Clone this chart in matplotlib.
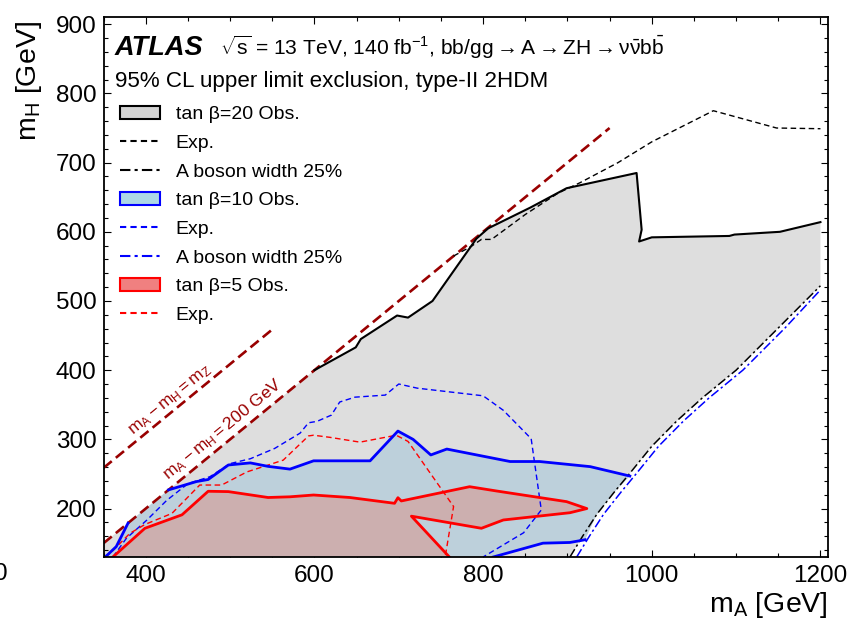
import numpy as np
import matplotlib
matplotlib.use("Agg")
import matplotlib.pyplot as plt
from matplotlib.patches import Patch
from matplotlib.lines import Line2D
from matplotlib.ticker import MultipleLocator

plt.rcParams["font.family"] = ["Liberation Sans", "DejaVu Sans"]
plt.rcParams["mathtext.fontset"] = "custom"
plt.rcParams["mathtext.rm"] = "Liberation Sans"
plt.rcParams["mathtext.it"] = "Liberation Sans:italic"
plt.rcParams["mathtext.bf"] = "Liberation Sans:bold"

MZ = 91.19

# tan(beta) = 20: observed boundary, expected and 25% width limit
tb20_obs_ma = [600, 649, 655, 698, 711, 740, 792, 806, 856, 899, 982, 988, 985, 1000, 1092, 1098, 1152, 1200]
tb20_obs_mh = [400, 433, 445, 479, 476, 500, 590, 605, 635, 663, 685, 603, 586, 592, 594, 596, 600, 614]
tb20_exp_ma = [765, 786, 798, 810, 850, 889, 915, 960, 1000, 1073, 1148, 1200]
tb20_exp_mh = [565, 579, 589, 589, 625, 656, 671, 700, 730, 775, 750, 749]
tb20_width_ma = [903, 918, 935, 955, 974, 1000, 1030, 1060, 1100, 1150, 1200]
tb20_width_mh = [130, 160, 192, 223, 251, 290, 327, 360, 400, 461, 522]

# tan(beta) = 10
tb10_low_ma = [352, 365, 379]
tb10_low_mh = [130, 145, 179]
tb10_obs_ma = [427, 460, 474, 498, 524, 545, 571, 599, 642, 666, 699, 717, 738, 757, 832, 867, 927, 974]
tb10_obs_mh = [227, 239, 242, 263, 266, 261, 257, 269, 269, 269, 312, 300, 277.5, 286, 268, 268, 260.6, 247]
tb10_bot_ma = [812, 871, 903, 915, 921]
tb10_bot_mh = [130, 150, 151, 153.6, 155]
tb10_exp_ma = [361, 377, 401, 425, 450, 476, 500, 524, 553, 583, 593, 603, 620, 630, 648, 684, 700, 722,
               800, 824, 857, 869, 848, 800]
tb10_exp_mh = [130, 157, 183, 212, 236, 246, 265, 272, 287, 309, 324, 326, 335, 354, 361, 364, 380, 374,
               363, 342, 301, 198, 165, 130]
tb10_width_ma = [911, 926, 943, 963, 982, 1008, 1038, 1068, 1108, 1158, 1200]
tb10_width_mh = [130, 160, 192, 223, 251, 290, 327, 360, 400, 461, 516]

# tan(beta) = 5
tb5_obs_ma = [361, 399, 443, 474, 498, 545, 571, 599, 642, 695, 699, 703, 784, 816, 899, 923, 903, 824, 798, 715, 760]
tb5_obs_mh = [130, 171.5, 191, 225, 224.5, 216, 217, 219.6, 216, 207.6, 215.7, 211, 231.6, 225.4, 210, 200, 194,
              183.5, 171.5, 189, 130]
tb5_exp_ma = [352, 360, 381, 399, 431, 464, 490, 520, 563, 593, 599, 618, 654, 697, 711, 765, 755]
tb5_exp_mh = [130, 138, 164, 177, 193, 234, 234, 253, 270, 305, 306, 303, 296, 306, 297, 203, 130]

# kinematic reference lines m_A - m_H = const
mz_line_ma = [350, 550]
dm200_line_ma = [350, 950]
DM200 = 200.0

x_ticks = [400, 600, 800, 1000, 1200]
y_ticks = [200, 300, 400, 500, 600, 700, 800, 900]

legend_labels = ["tan β=20 Obs.", "Exp.", "A boson width 25%",
                 "tan β=10 Obs.", "Exp.", "A boson width 25%",
                 "tan β=5 Obs.", "Exp."]

fig = plt.figure(figsize=(8.47, 6.25), dpi=100)
ax = fig.add_axes([0.1223, 0.1088, 0.8553, 0.8635])
ax.set_xlim(350, 1209)
ax.set_ylim(130, 910)

gray_fill = "#dedede"
blue_fill = "#bdd0db"
red_fill = "#ccafaf"
dark_red = "#990000"

# gray area: diagonal edge up to the start of the observed line, then down along the width limit
diag_ma = np.array([350, 600])
g_x = [350] + list(diag_ma) + tb20_obs_ma + tb20_width_ma[::-1]
g_y = [130] + list(diag_ma - DM200) + tb20_obs_mh + tb20_width_mh[::-1]
ax.fill(g_x, g_y, color=gray_fill, lw=0, zorder=1)

# blue area closed along the diagonal and the tan(beta)=20 width line
w_ma = np.array(tb20_width_ma, dtype=float)
w_mh = np.array(tb20_width_mh, dtype=float)
sel = (w_ma > tb10_bot_ma[-1]) & (w_ma < tb10_obs_ma[-1])
b_x = tb10_low_ma + tb10_obs_ma + list(w_ma[sel][::-1]) + tb10_bot_ma[::-1]
b_y = tb10_low_mh + tb10_obs_mh + list(w_mh[sel][::-1]) + tb10_bot_mh[::-1]
ax.fill(b_x, b_y, color=blue_fill, lw=0, zorder=2)

ax.fill(tb5_obs_ma, tb5_obs_mh, color=red_fill, lw=0, zorder=3)

# reference lines
ax.plot(mz_line_ma, np.array(mz_line_ma) - MZ, color=dark_red, lw=1.9, dashes=(4, 2), zorder=4)
ax.plot(dm200_line_ma, np.array(dm200_line_ma) - DM200, color=dark_red, lw=1.9, dashes=(4, 2), zorder=4)

ang = np.degrees(np.arctan2(0.6917, 0.8435))
ax.text(429, 357, r"$\mathrm{m_{A}-m_{H}=m_{Z}}$", color=dark_red, fontsize=12.5,
        rotation=ang, ha="center", va="center", zorder=4)
ax.text(492, 314, r"$\mathrm{m_{A}-m_{H}=200\ GeV}$", color=dark_red, fontsize=12.5,
        rotation=ang, ha="center", va="center", zorder=4)

# contours
ax.plot(tb20_exp_ma, tb20_exp_mh, color="black", lw=1.0, dashes=(4, 2.5), zorder=5)
ax.plot(tb10_exp_ma, tb10_exp_mh, color="blue", lw=1.0, dashes=(4, 2.5), zorder=5)
ax.plot(tb5_exp_ma, tb5_exp_mh, color="red", lw=1.0, dashes=(4, 2.5), zorder=5)
ax.plot(tb20_width_ma, tb20_width_mh, color="black", lw=1.1, dashes=(6, 2, 1.5, 2), zorder=5)
ax.plot(tb10_width_ma, tb10_width_mh, color="blue", lw=1.1, dashes=(6, 2, 1.5, 2), zorder=5)

ax.plot(tb20_obs_ma, tb20_obs_mh, color="black", lw=1.5, zorder=6)
ax.plot(tb10_low_ma, tb10_low_mh, color="blue", lw=2.0, zorder=6)
ax.plot(tb10_obs_ma, tb10_obs_mh, color="blue", lw=2.0, zorder=6)
ax.plot(tb10_bot_ma, tb10_bot_mh, color="blue", lw=2.0, zorder=6)
ax.plot(tb5_obs_ma, tb5_obs_mh, color="red", lw=2.0, zorder=6)

# axes styling
ax.set_xticks(x_ticks)
ax.set_yticks(y_ticks)
ax.xaxis.set_minor_locator(MultipleLocator(50))
ax.yaxis.set_minor_locator(MultipleLocator(20))
ax.tick_params(which="both", direction="in", top=True, right=True, width=0.8, labelsize=17.5)
ax.tick_params(which="major", length=5)
ax.tick_params(which="minor", length=3)
ax.tick_params(axis="x", pad=6)
ax.tick_params(axis="y", pad=5)
for sp in ax.spines.values():
    sp.set_linewidth(1.3)
    sp.set_zorder(10)

ax.set_xlabel(r"$\mathrm{m_{A}}$ [GeV]", fontsize=20.5, loc="right")
ax.xaxis.set_label_coords(1.0, -0.062)
fig.text(44 / 847, 1 - 21 / 625, r"$\mathrm{m_{H}}$ [GeV]", fontsize=20.5, rotation=90,
         ha="right", va="top")

# header texts
fig.text(115 / 847, 1 - 55 / 625, "ATLAS", fontsize=19.5, fontweight="bold", fontstyle="italic",
         va="baseline")
fig.text(220 / 847, 1 - 55 / 625,
         r"$\sqrt{\mathrm{s}}$ = 13 TeV, 140 fb$^{-1}$, bb/gg$\rightarrow$A$\rightarrow$ZH$\rightarrow$"
         r"$\mathrm{\nu\bar{\nu}b\bar{b}}$", fontsize=15.1, va="baseline")
fig.text(115 / 847, 1 - 87 / 625, "95% CL upper limit exclusion, type-II 2HDM", fontsize=16.1,
         va="baseline")

# stray tick label at the left edge
fig.text(1 / 847, 1 - 574 / 625, "0", fontsize=17.5, ha="center", va="center")

handles = [
    Patch(facecolor="#d3d3d3", edgecolor="black", lw=1.5),
    Line2D([], [], color="black", lw=1.5, dashes=(3, 2)),
    Line2D([], [], color="black", lw=1.5, dashes=(5, 2, 1.5, 2)),
    Patch(facecolor="#add8e6", edgecolor="blue", lw=1.5),
    Line2D([], [], color="blue", lw=1.5, dashes=(3, 2)),
    Line2D([], [], color="blue", lw=1.5, dashes=(5, 2, 1.5, 2)),
    Patch(facecolor="#f08080", edgecolor="red", lw=1.5),
    Line2D([], [], color="red", lw=1.5, dashes=(3, 2)),
]
ax.legend(handles, legend_labels, loc="upper left", bbox_to_anchor=(120 / 847, 1 - 106 / 625),
          bbox_transform=fig.transFigure, frameon=False, fontsize=14, borderpad=0, borderaxespad=0,
          handlelength=2.06, handleheight=0.67, handletextpad=0.8, labelspacing=0.575)

fig.savefig("out.png", dpi=100)
